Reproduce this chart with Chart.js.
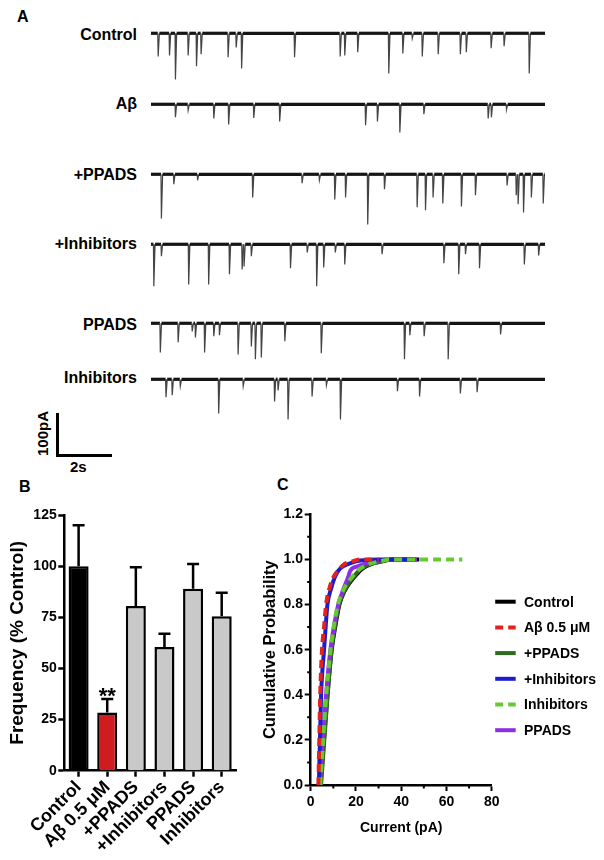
<!DOCTYPE html>
<html>
<head>
<meta charset="utf-8">
<script src="https://cdn.jsdelivr.net/npm/chart.js"></script>
<style>
  body { margin: 0; background: #fff; }
  #page { position: relative; width: 604px; height: 860px; overflow: hidden;
          font-family: "Liberation Sans", Arial, sans-serif; font-weight: bold; color: #000; }
  .txt { position: absolute; white-space: nowrap; }
  canvas { position: absolute; }
  .bar { position: absolute; background: #000; }
</style>
</head>
<body>
<div id="page"></div>
<script>
// ---- Panel A: mEPSC traces, events as [time (s), amplitude (pA)] ----
const traceDuration = 14.59;
const traceNames = ['Control', 'Aβ', '+PPADS', '+Inhibitors', 'PPADS', 'Inhibitors'];
const controlEvents = [[0.25, 54], [0.67, 52], [0.89, 108], [1.36, 52], [1.67, 77], [1.84, 49],
  [2.84, 56], [3.14, 33], [3.34, 82], [5.30, 56], [6.99, 54], [7.16, 52], [7.64, 44], [8.79, 94],
  [9.31, 47], [9.66, 12], [10.03, 54], [10.62, 49], [11.44, 49], [11.66, 44], [12.58, 35],
  [13.06, 30], [13.99, 94]];
const abetaEvents = [[0.89, 30], [1.36, 14], [2.31, 33], [2.86, 47], [3.79, 32], [4.75, 40],
  [7.93, 49], [8.37, 40], [9.20, 66], [10.09, 23], [12.47, 33], [12.59, 30], [13.15, 12]];
const plusPpadsEvents = [[0.37, 103], [0.83, 23], [1.71, 14], [3.75, 54], [5.58, 21], [6.22, 14],
  [6.79, 59], [7.19, 54], [8.01, 117], [8.63, 35], [9.84, 77], [10.15, 84], [10.43, 54],
  [10.79, 68], [11.48, 75], [12.00, 49], [13.17, 26], [13.51, 49], [13.58, 70], [13.78, 89],
  [14.07, 54], [14.51, 68]];
const plusInhibEvents = [[0.09, 98], [0.37, 28], [1.38, 94], [2.12, 94], [2.89, 70], [3.36, 59],
  [3.43, 52], [3.70, 28], [5.15, 56], [5.77, 19], [6.12, 98], [6.38, 54], [6.81, 19], [7.16, 47],
  [8.54, 23], [10.83, 44], [11.38, 70], [11.63, 23], [12.15, 56], [13.81, 47], [14.34, 26]];
const ppadsEvents = [[0.33, 68], [0.99, 44], [1.51, 19], [1.63, 33], [1.97, 68], [2.31, 30],
  [2.52, 28], [3.21, 73], [3.70, 54], [3.85, 84], [4.07, 80], [4.94, 42], [6.29, 70], [9.37, 84],
  [9.57, 28], [10.10, 30], [10.99, 84], [12.93, 26]];
const inhibEvents = [[0.54, 42], [0.77, 37], [1.07, 16], [2.49, 80], [3.40, 16], [4.56, 52],
  [4.69, 26], [5.06, 94], [5.95, 40], [6.48, 14], [7.00, 94], [9.11, 28], [9.93, 40], [11.44, 33],
  [12.06, 30]];
const traceEvents = [controlEvents, abetaEvents, plusPpadsEvents, plusInhibEvents, ppadsEvents, inhibEvents];

// ---- Panel B: frequency (% control) ----
const freqLabels = ['Control', 'Aβ 0.5 μM', '+PPADS', '+Inhibitors', 'PPADS', 'Inhibitors'];
const freqMean = [100, 28.5, 80.5, 60.5, 89, 75.5];
const freqSem = [20, 6.5, 19, 6.5, 12, 11.5];
const freqStars = ['', '**', '', '', '', ''];
const freqTicks = [0, 25, 50, 75, 100, 125];

// ---- Panel C: cumulative probability of amplitude ----
const probLevels = [0, 0.2, 0.4, 0.6, 0.71, 0.8, 0.86, 0.9, 0.93, 0.96, 0.98, 0.99, 1.0, 1.0];
const ctrlCurrent = [4.4, 5.9, 7.4, 9.3, 11.0, 12.7, 15.0, 17.5, 20.0, 23.0, 27.0, 31.0, 36.0, 48.0];
const plusPpadsCurrent = [4.6, 6.0, 7.5, 9.2, 10.8, 12.5, 14.8, 17.2, 19.5, 22.5, 26.5, 31.0, 36.0, 45.0];
const inhibCurrent = [4.2, 5.5, 6.9, 8.8, 10.3, 12.0, 14.2, 16.5, 19.0, 22.0, 26.0, 30.0, 35.0, 67.0];
const ppadsCurrent = [4.0, 5.3, 6.8, 8.7, 10.4, 12.2, 14.5, 16.5, 17.5, 21.0, 25.0, 30.0, 35.0, 47.0];
const ppadsProb = [0, 0.2, 0.4, 0.6, 0.71, 0.8, 0.87, 0.92, 0.95, 0.97, 0.985, 0.995, 1.0, 1.0];
const abetaCurrent = [3.4, 3.8, 4.2, 5.0, 5.9, 6.8, 8.5, 10.0, 12.0, 15.0, 18.0, 22.0, 30.0];
const abetaProb = [0, 0.2, 0.4, 0.6, 0.7, 0.8, 0.88, 0.92, 0.95, 0.98, 0.99, 1.0, 1.0];
const plusInhibCurrent = [3.6, 4.1, 4.6, 5.9, 6.6, 7.4, 9.0, 10.6, 12.2, 14.5, 18.0, 22.0, 30.0, 46.0];
const plusInhibProb = [0, 0.2, 0.4, 0.6, 0.7, 0.8, 0.87, 0.92, 0.95, 0.97, 0.985, 0.995, 1.0, 1.0];
const probMinorTicks = [0.1, 0.3, 0.5, 0.7, 0.9, 1.1];
const currentMinorTicks = [10, 30, 50, 70];

const FONT = '"Liberation Sans", Arial, sans-serif';
Chart.defaults.font.family = FONT;
Chart.defaults.font.weight = 'bold';
Chart.defaults.color = '#000';
Chart.defaults.animation = false;

const page = document.getElementById('page');

function addText(str, x, y, size, opts = {}) {
  const d = document.createElement('div');
  d.className = 'txt';
  d.textContent = str;
  d.style.fontSize = size + 'px';
  d.style.lineHeight = size + 'px';
  if (opts.right) { d.style.right = (604 - x) + 'px'; }
  else { d.style.left = x + 'px'; }
  d.style.top = (y - size / 2) + 'px';
  if (opts.rotate) {
    d.style.transform = 'translate(-50%, 0) rotate(-90deg)';
  }
  page.appendChild(d);
  return d;
}

function addCanvas(left, top, w, h) {
  const c = document.createElement('canvas');
  c.width = w; c.height = h;
  c.style.left = left + 'px'; c.style.top = top + 'px';
  c.style.width = w + 'px'; c.style.height = h + 'px';
  page.appendChild(c);
  return c;
}

// panel letters
addText('A', 17, 17, 16);
addText('B', 19, 487, 16);
addText('C', 277, 485, 16);

// ---- traces ----
const baselines = [33, 104, 174, 244, 323.5, 379.3];
const labelYs = [35, 104, 175, 244, 325, 378];

function traceData(events) {
  const pts = [{ x: 0, y: 0 }];
  events.forEach(([t, amp]) => {
    pts.push({ x: t, y: 0 }, { x: t + 0.015, y: -amp }, { x: t + 0.06, y: 0 });
  });
  pts.push({ x: traceDuration, y: 0 });
  return pts;
}

const flat = c => c.p0.parsed.y === 0 && c.p1.parsed.y === 0;

traceNames.forEach((name, i) => {
  addText(name, 137, labelYs[i], 16, { right: true });
  const cv = addCanvas(148, baselines[i] - 8.29, 400, 68);
  new Chart(cv, {
    type: 'line',
    data: {
      datasets: [{
        data: traceData(traceEvents[i]),
        borderColor: '#111',
        borderWidth: 3.2,
        pointRadius: 0,
        tension: 0,
        segment: {
          borderWidth: c => flat(c) ? 3.2 : 1.2,
          borderColor: c => flat(c) ? '#151515' : '#444'
        }
      }]
    },
    options: {
      responsive: false,
      events: [],
      layout: { padding: { left: 3, right: 3, top: 4, bottom: 4 } },
      plugins: { legend: { display: false }, tooltip: { enabled: false } },
      scales: {
        x: { type: 'linear', min: 0, max: traceDuration, display: false },
        y: { min: -130, max: 10, display: false }
      }
    }
  });
});

// scale bar (100 pA, 2 s)
const sb1 = document.createElement('div'); sb1.className = 'bar';
sb1.style.left = '56px'; sb1.style.top = '413px'; sb1.style.width = '3px'; sb1.style.height = '44px';
page.appendChild(sb1);
const sb2 = document.createElement('div'); sb2.className = 'bar';
sb2.style.left = '56px'; sb2.style.top = '454px'; sb2.style.width = '56px'; sb2.style.height = '3px';
page.appendChild(sb2);
addText('100pA', 42, 433, 15, { rotate: true });
addText('2s', 70, 466, 15);

// ---- Panel B ----
const errorBars = {
  id: 'errorBars',
  afterDatasetsDraw(chart) {
    const ctx = chart.ctx, meta = chart.getDatasetMeta(0), y = chart.scales.y;
    ctx.save();
    ctx.strokeStyle = '#000';
    ctx.lineWidth = 2.5;
    meta.data.forEach((bar, i) => {
      const top = y.getPixelForValue(freqMean[i] + freqSem[i]);
      ctx.beginPath();
      ctx.moveTo(bar.x, bar.y);
      ctx.lineTo(bar.x, top);
      ctx.moveTo(bar.x - 6, top);
      ctx.lineTo(bar.x + 6, top);
      ctx.stroke();
      if (freqStars[i]) {
        ctx.font = 'bold 22px ' + FONT;
        ctx.fillStyle = '#000';
        ctx.textAlign = 'center';
        ctx.textBaseline = 'alphabetic';
        ctx.fillText(freqStars[i], bar.x, top + 4);
      }
    });
    ctx.restore();
  }
};

const cvB = addCanvas(0, 480, 250, 380);
new Chart(cvB, {
  type: 'bar',
  data: {
    labels: freqLabels,
    datasets: [{
      data: freqMean,
      backgroundColor: ['#000000', '#d11c1f', '#c9c9c9', '#c9c9c9', '#c9c9c9', '#c9c9c9'],
      borderColor: '#000',
      borderWidth: 2.5,
      barPercentage: 0.7,
      categoryPercentage: 1
    }]
  },
  options: {
    responsive: false,
    events: [],
    layout: { padding: { top: 35, right: 14, left: 0, bottom: 0 } },
    plugins: { legend: { display: false }, tooltip: { enabled: false } },
    scales: {
      x: {
        grid: { display: true, drawOnChartArea: false, offset: false, tickLength: 6, tickWidth: 2.5, tickColor: '#000' },
        border: { color: '#000', width: 2.5 },
        ticks: { autoSkip: false, minRotation: 45, maxRotation: 45, padding: 0, font: { size: 18, weight: 'bold' }, color: '#000' },
        afterFit: s => { s.height = 89.3; }
      },
      y: {
        min: 0, max: 125,
        afterBuildTicks: s => { s.ticks = freqTicks.map(v => ({ value: v })); },
        grid: { drawOnChartArea: false, tickLength: 6, tickWidth: 2.5, tickColor: '#000' },
        border: { color: '#000', width: 2.5 },
        ticks: { padding: 1.6, font: { size: 14, weight: 'bold' }, color: '#000' },
        title: { display: true, text: 'Frequency (% Control)', font: { size: 19, weight: 'bold' }, color: '#000', padding: { top: 6.6, bottom: 0 } },
        afterFit: s => { s.width = 64.3; }
      }
    }
  },
  plugins: [errorBars]
});

// ---- Panel C ----
const cumDatasets = [
  { label: 'Control', x: ctrlCurrent, y: probLevels, color: '#000000', dash: [], order: 6 },
  { label: 'Aβ 0.5 μM', x: abetaCurrent, y: abetaProb, color: '#e2231d', dash: [8, 5], order: 1 },
  { label: '+PPADS', x: plusPpadsCurrent, y: probLevels, color: '#2e6b1c', dash: [], order: 5 },
  { label: '+Inhibitors', x: plusInhibCurrent, y: plusInhibProb, color: '#1c1ccc', dash: [], order: 3 },
  { label: 'Inhibitors', x: inhibCurrent, y: probLevels, color: '#66c832', dash: [8, 5], order: 2 },
  { label: 'PPADS', x: ppadsCurrent, y: ppadsProb, color: '#8d2ee3', dash: [], order: 4 }
];

const minorTicks = {
  id: 'minorTicks',
  afterDraw(chart) {
    const { ctx, scales: { x, y } } = chart;
    ctx.save();
    ctx.strokeStyle = '#000';
    ctx.lineWidth = 2;
    ctx.beginPath();
    probMinorTicks.forEach(v => {
      const py = y.getPixelForValue(v);
      ctx.moveTo(x.left - 3.5, py); ctx.lineTo(x.left, py);
    });
    currentMinorTicks.forEach(v => {
      const px = x.getPixelForValue(v);
      ctx.moveTo(px, y.bottom); ctx.lineTo(px, y.bottom + 3.5);
    });
    ctx.stroke();
    ctx.restore();
  }
};

const cumLegend = {
  id: 'cumLegend',
  afterDraw(chart) {
    const ctx = chart.ctx, right = chart.chartArea.right;
    ctx.save();
    chart.data.datasets.forEach((ds, i) => {
      const y = 141.7 + i * 25.7;
      ctx.beginPath();
      ctx.setLineDash(ds.borderDash || []);
      ctx.strokeStyle = ds.borderColor;
      ctx.lineWidth = 4;
      ctx.moveTo(right + 3.5, y);
      ctx.lineTo(right + 24, y);
      ctx.stroke();
      ctx.setLineDash([]);
      ctx.font = 'bold 14px ' + FONT;
      ctx.fillStyle = '#000';
      ctx.textAlign = 'left';
      ctx.textBaseline = 'middle';
      ctx.fillText(ds.label, right + 32.3, y + 1);
    });
    ctx.restore();
  }
};

const cvC = addCanvas(250, 460, 354, 400);
new Chart(cvC, {
  type: 'line',
  data: {
    datasets: cumDatasets.map(s => ({
      label: s.label,
      data: s.x.map((v, k) => ({ x: v, y: s.y[k] })),
      borderColor: s.color,
      borderDash: s.dash,
      borderWidth: 4,
      pointRadius: 0,
      cubicInterpolationMode: 'monotone',
      order: s.order,
      fill: false
    }))
  },
  options: {
    responsive: false,
    events: [],
    layout: { padding: { top: 54.3, right: 112.3, left: 0, bottom: 0 } },
    plugins: { legend: { display: false }, tooltip: { enabled: false } },
    scales: {
      x: {
        type: 'linear', min: 0, max: 80,
        ticks: { stepSize: 20, padding: 3, font: { size: 14, weight: 'bold' }, color: '#000' },
        grid: { drawOnChartArea: false, tickLength: 6, tickWidth: 2, tickColor: '#000' },
        border: { color: '#000', width: 2.5 },
        title: { display: true, text: 'Current (pA)', font: { size: 14, weight: 'bold' }, color: '#000', padding: { top: 0, bottom: 23.6 } },
        afterFit: s => { s.height = 75; }
      },
      y: {
        min: 0, max: 1.2,
        ticks: { stepSize: 0.2, padding: 1.7, font: { size: 14, weight: 'bold' }, color: '#000', callback: v => v.toFixed(1) },
        grid: { drawOnChartArea: false, tickLength: 6, tickWidth: 2, tickColor: '#000' },
        border: { color: '#000', width: 2.5 },
        title: { display: true, text: 'Cumulative Probability', font: { size: 16.5, weight: 'bold' }, color: '#000', padding: { top: 10.8, bottom: 0 } },
        afterFit: s => { s.width = 60.7; }
      }
    }
  },
  plugins: [minorTicks, cumLegend]
});
</script>
</body>
</html>
